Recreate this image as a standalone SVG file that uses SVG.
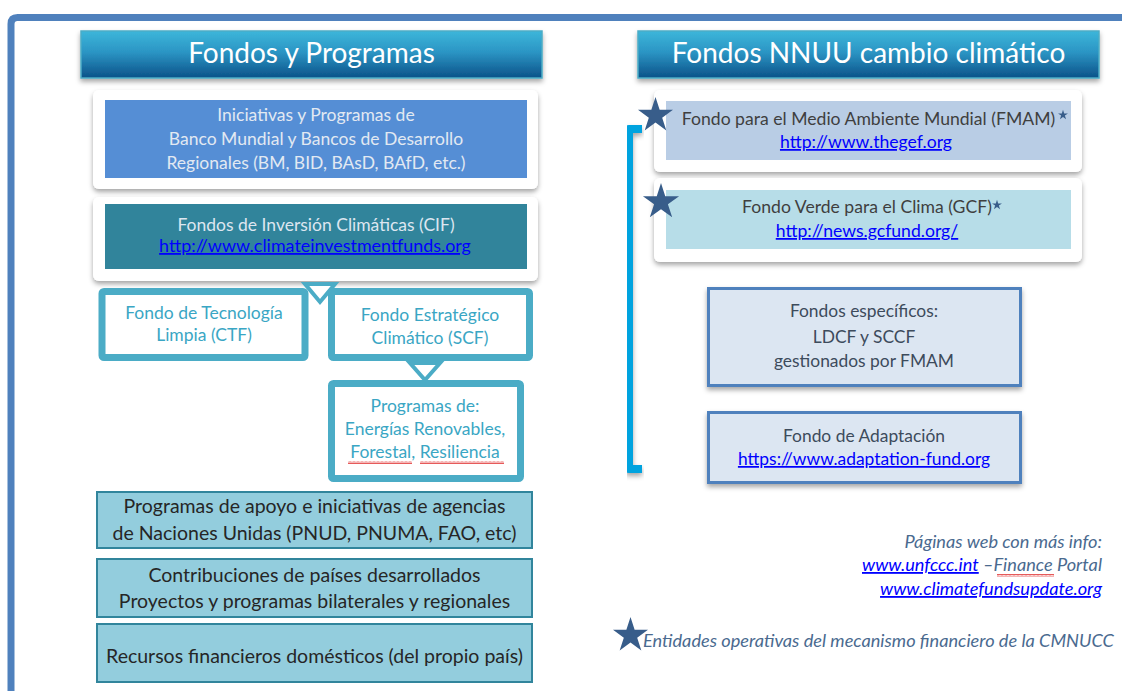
<svg xmlns="http://www.w3.org/2000/svg" width="1122" height="691" viewBox="0 0 1122 691">
<style>
text{font-family:Lato,"Open Sans","Liberation Sans",sans-serif}
.hdr{font-size:28px;fill:#ffffff;text-anchor:middle}
.c{text-anchor:middle}
.lb{font-size:17.5px;fill:#e2e9f2}
.tl{font-size:17.5px;fill:#3aa6c4}
.bt{font-size:19.5px;fill:#262626}
.rt{font-size:17.6px;fill:#3f3f3f}
.rb{font-size:17.4px;fill:#3d4b5c}
.it{font-style:italic;font-size:18.2px;fill:#4a6a8f}
.link{fill:#0000ff;text-decoration:underline}
.card{fill:#ffffff}
.teal{fill:#ffffff;stroke:#4bacc6;stroke-width:7}
.lbox{fill:#93cddd;stroke:#31859c;stroke-width:2}
.rbox{fill:#dce6f2;stroke:#4f81bd;stroke-width:3}
.star{fill:#385d8a}
</style>
<defs>
<linearGradient id="hg" x1="0" y1="0" x2="0" y2="1">
<stop offset="0" stop-color="#3cb6da"/>
<stop offset="0.45" stop-color="#2b95c4"/>
<stop offset="1" stop-color="#0c5289"/>
</linearGradient>
<filter id="sh" x="-10%" y="-20%" width="120%" height="150%">
<feDropShadow dx="0" dy="3" stdDeviation="2.5" flood-color="#000" flood-opacity="0.35"/>
</filter>
<pattern id="wavy" width="4" height="3" patternUnits="userSpaceOnUse">
<path d="M0,2.5 L1,0.5 L2,2.5 L3,0.5 L4,2.5" fill="none" stroke="#e03030" stroke-width="0.8"/>
</pattern>
<path id="st" d="M0,-10 L2.245,-3.09 L9.511,-3.09 L3.633,1.18 L5.878,8.09 L0,3.82 L-5.878,8.09 L-3.633,1.18 L-9.511,-3.09 L-2.245,-3.09 Z"/>
</defs>

<rect width="1122" height="691" fill="#ffffff"/>
<path d="M11,700 V24 Q11,17.5 17.5,17.5 H1130" fill="none" stroke="#4f81bd" stroke-width="7"/>

<g id="hdr-left">
<rect x="81" y="31" width="461" height="47" fill="url(#hg)" stroke="#4bacc6" stroke-width="1.5" filter="url(#sh)"/>
<text class="hdr" x="311.5" y="63">Fondos y Programas</text>
</g>
<g id="hdr-right">
<rect x="638" y="31" width="461" height="47" fill="url(#hg)" stroke="#4bacc6" stroke-width="1.5" filter="url(#sh)"/>
<text class="hdr" x="868.5" y="63">Fondos NNUU cambio climático</text>
</g>

<g id="bancos">
<rect class="card" x="93" y="90" width="445" height="99" rx="6" filter="url(#sh)"/>
<rect x="105" y="100" width="422" height="78" fill="#558ed5"/>
<text class="c lb" x="316" y="121">Iniciativas y Programas de</text>
<text class="c lb" x="316" y="145">Banco Mundial y Bancos de Desarrollo</text>
<text class="c lb" x="316" y="169">Regionales (BM, BID, BAsD, BAfD, etc.)</text>
</g>

<g id="cif">
<rect class="card" x="93" y="197" width="445" height="84" rx="6" filter="url(#sh)"/>
<rect x="105" y="204" width="422" height="65" fill="#31849b"/>
<text class="c" x="316" y="231" font-size="17.5" fill="#dde6f0">Fondos de Inversión Climáticas (CIF)</text>
<text class="c link" x="315" y="252" font-size="17.9">http://www.climateinvestmentfunds.org</text>
</g>

<g id="ctf">
<rect class="teal" x="102" y="291.5" width="203" height="66" rx="2"/>
<text class="c tl" x="204" y="319">Fondo de Tecnología</text>
<text class="c tl" x="204" y="341">Limpia (CTF)</text>
</g>

<g id="scf">
<rect class="teal" x="331.5" y="291.5" width="198" height="66" rx="2"/>
<text class="c tl" x="430" y="321">Fondo Estratégico</text>
<text class="c tl" x="430" y="344">Climático (SCF)</text>
</g>

<g id="programas">
<rect class="teal" x="331.5" y="383.5" width="189" height="95" rx="2"/>
<text class="c tl" x="425" y="412">Programas de:</text>
<text class="c tl" x="425" y="435">Energías Renovables,</text>
<text class="c tl" x="425" y="458">Forestal, Resiliencia</text>
<rect x="348" y="461" width="64" height="3" fill="url(#wavy)"/>
<rect x="420" y="461" width="84" height="3" fill="url(#wavy)"/>
</g>

<g id="nnuu-agencias">
<rect class="lbox" x="97" y="492" width="435" height="56"/>
<text class="c bt" x="314.5" y="513">Programas  de apoyo e iniciativas de agencias</text>
<text class="c bt" x="314.5" y="540">de Naciones Unidas (PNUD, PNUMA, FAO, etc)</text>
</g>
<g id="contribuciones">
<rect class="lbox" x="97" y="559" width="435" height="58"/>
<text class="c bt" x="314.5" y="582">Contribuciones de países desarrollados</text>
<text class="c bt" x="314.5" y="608">Proyectos y programas bilaterales  y regionales</text>
</g>
<g id="domesticos">
<rect class="lbox" x="97" y="624" width="435" height="58"/>
<text class="c bt" x="314.5" y="663">Recursos financieros domésticos (del propio país)</text>
</g>

<g id="fmam">
<rect class="card" x="654" y="90" width="428" height="82" rx="6" filter="url(#sh)"/>
<rect x="666" y="101" width="405" height="59" fill="#b9cde5"/>
<text class="c rt" x="868.5" y="125">Fondo para el Medio Ambiente Mundial (FMAM)</text>
<use href="#st" class="star" transform="translate(1063,115) scale(0.52)"/>
<text class="c rt link" x="866" y="148">http://www.thegef.org</text>
<use href="#st" class="star" transform="translate(655.5,115.5) scale(1.84)"/>
</g>

<g id="gcf">
<rect class="card" x="654" y="178" width="428" height="84" rx="6" filter="url(#sh)"/>
<rect x="666" y="190" width="405" height="59" fill="#b7dde8"/>
<text class="c rt" x="867" y="213">Fondo Verde para el Clima (GCF)</text>
<use href="#st" class="star" transform="translate(997,205) scale(0.52)"/>
<text class="c rt link" x="867" y="237">http://news.gcfund.org/</text>
<use href="#st" class="star" transform="translate(661,202) scale(1.9)"/>
</g>

<g id="ldcf-sccf">
<rect class="rbox" x="708.5" y="288.5" width="312" height="97" filter="url(#sh)"/>
<text class="c rb" x="864" y="317">Fondos específicos:</text>
<text class="c rb" x="864" y="343">LDCF  y  SCCF</text>
<text class="c rb" x="864" y="367">gestionados por  FMAM</text>
</g>

<g id="adaptacion">
<rect class="rbox" x="708.5" y="412.5" width="312" height="70" filter="url(#sh)"/>
<text class="c rb" x="864" y="442">Fondo de Adaptación</text>
<text class="c rb link" x="864" y="465" font-size="17.9">https://www.adaptation-fund.org</text>
</g>

<g id="connectors">
<polygon points="305,284 335,284 320,302" fill="#ffffff" stroke="#4bacc6" stroke-width="4"/>
<polygon points="410,363 440,363 425,380" fill="#ffffff" stroke="#4bacc6" stroke-width="4"/>
<path d="M642,129 H629 V469 H642" fill="none" stroke="#00a3df" stroke-width="8" stroke-linejoin="round" filter="url(#sh)"/>
</g>

<g id="info">
<text class="it" x="1102" y="548" text-anchor="end">Páginas web con más info:</text>
<text class="it" x="1102" y="571" text-anchor="end"><tspan class="link">www.unfccc.int</tspan> –Finance Portal</text>
<rect x="997" y="574" width="57" height="3" fill="url(#wavy)"/>
<text class="it link" x="1102" y="595" text-anchor="end">www.climatefundsupdate.org</text>
</g>

<g id="leyenda">
<use href="#st" class="star" transform="translate(630.5,635.5) scale(1.84)"/>
<text class="it" x="643" y="647">Entidades operativas del mecanismo financiero de la CMNUCC</text>
</g>
</svg>
